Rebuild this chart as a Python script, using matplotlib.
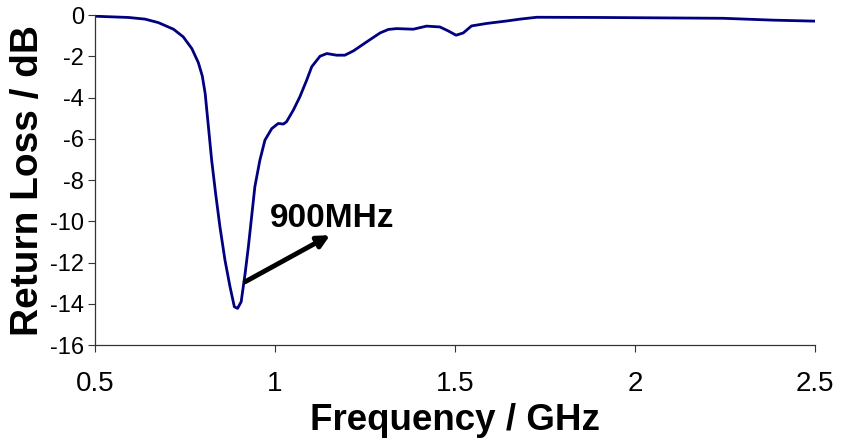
import matplotlib
matplotlib.use("Agg")
import matplotlib.pyplot as plt

plt.rcParams['font.family'] = ['Liberation Sans', 'DejaVu Sans']
plt.rcParams['axes.unicode_minus'] = False

freq_ghz = [0.500, 0.593, 0.639, 0.676, 0.718, 0.745, 0.769, 0.787, 0.798, 0.806,
            0.815, 0.824, 0.835, 0.847, 0.861, 0.875, 0.887, 0.896, 0.906, 0.917,
            0.926, 0.935, 0.944, 0.958, 0.972, 0.991, 1.009, 1.023, 1.032, 1.051,
            1.069, 1.088, 1.102, 1.125, 1.144, 1.171, 1.194, 1.218, 1.255, 1.292,
            1.315, 1.338, 1.384, 1.421, 1.458, 1.481, 1.503, 1.523, 1.546, 1.588,
            1.644, 1.681, 1.727, 1.903, 2.245, 2.384, 2.505]
return_loss_db = [-0.05, -0.11, -0.19, -0.36, -0.68, -1.05, -1.62, -2.30, -2.95, -3.80,
                  -5.41, -7.03, -8.65, -10.26, -11.88, -13.17, -14.14, -14.22, -13.90, -12.52,
                  -11.23, -9.78, -8.32, -7.03, -6.06, -5.50, -5.25, -5.28, -5.17, -4.60,
                  -3.96, -3.15, -2.50, -1.99, -1.86, -1.94, -1.94, -1.73, -1.29, -0.86,
                  -0.69, -0.65, -0.68, -0.53, -0.57, -0.76, -0.97, -0.86, -0.52, -0.40,
                  -0.28, -0.19, -0.10, -0.11, -0.15, -0.24, -0.29]

x_ticks = [0.5, 1, 1.5, 2, 2.5]
x_tick_labels = ['0.5', '1', '1.5', '2', '2.5']
y_ticks = [0, -2, -4, -6, -8, -10, -12, -14, -16]
y_tick_labels = ['0', '-2', '-4', '-6', '-8', '-10', '-12', '-14', '-16']

annot_text = '900MHz'
arrow_tail = (0.917, -12.93)
arrow_head = (1.153, -10.67)
text_pos = (0.986, -9.85)

fig = plt.figure(figsize=(8.41, 4.47), dpi=100)
ax = fig.add_axes([0.113, 0.228, 0.856, 0.738])
ax.plot(freq_ghz, return_loss_db, color='#000080', linewidth=2.0,
        solid_joinstyle='round', solid_capstyle='round')
ax.set_xlim(0.5, 2.5)
ax.set_ylim(-16, 0)
ax.set_xticks(x_ticks)
ax.set_xticklabels(x_tick_labels)
ax.set_yticks(y_ticks)
ax.set_yticklabels(y_tick_labels)
for s in ['top', 'right']:
    ax.spines[s].set_visible(False)
for s in ['left', 'bottom']:
    ax.spines[s].set_color('#333333')
    ax.spines[s].set_linewidth(0.9)
ax.tick_params(axis='x', direction='out', length=5, labelsize=20, pad=14, color='#333333')
ax.tick_params(axis='y', direction='out', length=5, labelsize=17, pad=3, color='#333333')
ax.set_xlabel('Frequency / GHz', fontsize=26.5, fontweight='bold', labelpad=4)
ax.set_ylabel('Return Loss / dB', fontsize=28, fontweight='bold', labelpad=3)

ax.annotate('', xy=arrow_head, xytext=arrow_tail,
            arrowprops=dict(arrowstyle='-|>', color='black', lw=3.5, mutation_scale=18,
                            shrinkA=0, shrinkB=0))
ax.text(text_pos[0], text_pos[1], annot_text, fontsize=24, fontweight='bold',
        ha='left', va='center')

fig.savefig('out.png', dpi=100)
